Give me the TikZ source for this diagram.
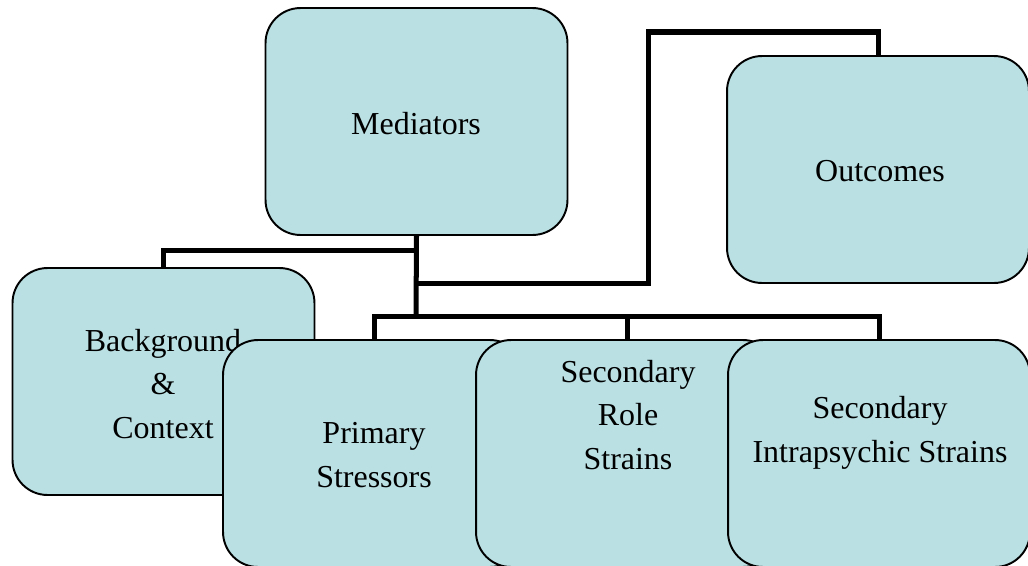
\documentclass[tikz,border=0pt]{standalone}
\usepackage{fontspec}
\setmainfont{Liberation Serif}
\definecolor{boxfill}{RGB}{186,224,227}
\tikzset{
  box/.style={draw=black, line width=1.1pt, fill=boxfill, rounded corners=0.7cm,
    minimum width=6.04cm, minimum height=4.54cm, inner sep=0pt},
  txt/.style={align=center, font=\fontsize{18.2}{25}\selectfont},
  link/.style={line width=2.85pt}
}

\begin{document}
\begin{tikzpicture}[x=0.02cm, y=-0.02cm]
\useasboundingbox (0,0) rectangle (1028,565);

% top row
\node[box] (med) at (416.5,121.5) {};
\node[txt] (med-t) at (416,124) {Mediators};
\node[box] (out) at (878,169.5) {};
\node[txt] (out-t) at (880,171) {Outcomes};

% lower rows
\node[box] (bg) at (163.5,381.5) {};
\node[txt] (bg-t) at (163,384) {Background\\\&\\Context};
\node[box] (ps) at (374,453.5) {};
\node[txt] (ps-t) at (374,455) {Primary\\Stressors};
\node[box] (srs) at (627,453.5) {};
\node[txt] (srs-t) at (628,415) {Secondary\\Role\\Strains};
\node[box] (sis) at (879,453.5) {};
\node[txt] (sis-t) at (880,433) {Secondary\\Intrapsychic Strains};

% connectors
\coordinate (split) at (416,316);
\coordinate (bend) at (648,283);
\draw[link] (med.south) -- ++(0,15) -| (bg.north);
\draw[link] (med.south) -- (split);
\draw[link] (ps.north) |- (split) -| (sis.north);
\draw[link] (srs.north) -- (srs.north |- split);
\draw[link] (med.south |- bend) -- (bend) -- ++(0,-251) -| (out.north);
\end{tikzpicture}
\end{document}
